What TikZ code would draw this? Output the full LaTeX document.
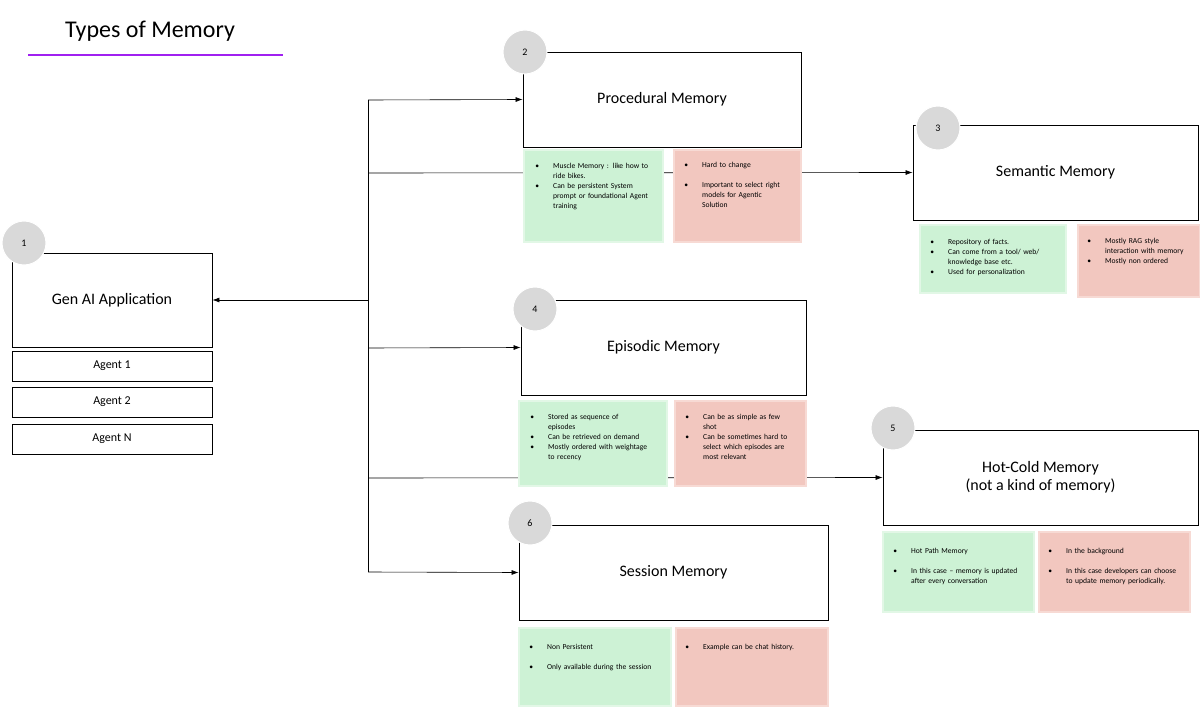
\documentclass[tikz,border=0pt]{standalone}
\usepackage{fontspec}
\setmainfont{Carlito}
\usepackage{enumitem}
\setlist[itemize]{nosep,leftmargin=22pt,labelsep=14pt,label=\textbullet}
\usetikzlibrary{arrows.meta}
\definecolor{gfill}{HTML}{CDF2D5}
\definecolor{gdraw}{HTML}{E2F7E6}
\definecolor{rfill}{HTML}{F2C7BF}
\definecolor{rdraw}{HTML}{F7DAD4}
\definecolor{circ}{HTML}{D9D9D9}
\definecolor{purp}{HTML}{A020F0}
\begin{document}
\begin{tikzpicture}[x=1pt,y=-1pt,
 box/.style={draw=black,line width=0.9pt,fill=white,font=\fontsize{16}{18}\selectfont,align=center},
 agent/.style={draw=black,line width=0.8pt,fill=white,font=\fontsize{12}{14}\selectfont},
 note/.style={font=\fontsize{7.6}{10}\selectfont,anchor=north west,inner sep=0pt},
 num/.style={circle,fill=circ,draw=white,line width=1pt,minimum size=44pt,inner sep=0pt,font=\fontsize{10}{12}\selectfont},
 conn/.style={line width=0.6pt},
 arr/.style={conn,-{Latex[length=7pt,width=5pt]}}]
\useasboundingbox (0,0) rectangle (1200,709);
\fill[white] (0,0) rectangle (1200,709);
% title
\node[font=\fontsize{24}{28}\selectfont] (title) at (150,31) {Types of Memory};
\draw[purp,line width=2.5pt] (28,55) -- (283,55);
% connectors (drawn first, behind)
\coordinate (t1) at (368,100); \coordinate (t2) at (368,173); \coordinate (t3) at (368,300);
\coordinate (t4) at (368,348); \coordinate (t5) at (368,478); \coordinate (t6) at (368,572);
% boxes
\node[box,minimum width=278pt,minimum height=95pt] (proc) at (662,99.5) {Procedural Memory};
\node[box,minimum width=285pt,minimum height=95pt] (sem) at (1055.5,172.5) {Semantic Memory};
\node[box,minimum width=200pt,minimum height=94pt] (gen) at (112,300) {Gen AI Application};
\node[box,minimum width=285pt,minimum height=95pt] (epi) at (663.5,347.5) {Episodic Memory};
\node[box,minimum width=315pt,minimum height=95pt] (hot) at (1040.5,477.5) {Hot-Cold Memory\\(not a kind of memory)};
\node[box,minimum width=309pt,minimum height=95pt] (ses) at (673.5,572.5) {Session Memory};
\draw[conn] (t1) -- (t6);
\draw[arr] (t1) -- (proc.west);
\draw[arr] (t2) -- (sem.west);
\draw[arr] (t3) -- (gen.east);
\draw[arr] (t4) -- (epi.west);
\draw[arr] (t5) -- (hot.west);
\draw[arr] (t6) -- (ses.west);
% agents
\node[agent,minimum width=200pt,minimum height=30pt] (a1) at (112,366) {Agent 1};
\node[agent,minimum width=200pt,minimum height=30pt] (a2) at (112,402) {Agent 2};
\node[agent,minimum width=200pt,minimum height=30pt] (a3) at (112,439) {Agent N};
% notes
\newcommand\gbox[5]{\filldraw[fill=gfill,draw=gdraw,line width=1.5pt] (#1,#2) rectangle (#3,#4);}
\newcommand\rbox[5]{\filldraw[fill=rfill,draw=rdraw,line width=1.5pt] (#1,#2) rectangle (#3,#4);}
\gbox{524}{150}{663}{242}{}
\rbox{674}{150}{801}{242}{}
\node[note,text width=125pt] (n1) at (531,158) {\begin{itemize}\item Muscle Memory : like how to ride bikes.\item Can be persistent System prompt or foundational Agent training\end{itemize}};
\node[note,text width=108pt] (n2) at (680,157) {\begin{itemize}\item Hard to change\item[]\item Important to select right models for Agentic Solution\end{itemize}};
\gbox{920}{225}{1066}{293}{}
\rbox{1078}{225}{1200}{297}{}
\node[note,text width=135pt] (n3) at (926,234) {\begin{itemize}\item Repository of facts.\item Can come from a tool/ web/ knowledge base etc.\item Used for personalization\end{itemize}};
\node[note,text width=110pt] (n4) at (1083,233) {\begin{itemize}\item Mostly RAG style interaction with memory\item Mostly non ordered\end{itemize}};
\gbox{519}{401}{667}{486}{}
\rbox{675}{401}{806}{486}{}
\node[note,text width=122pt] (n5) at (526,409) {\begin{itemize}\item Stored as sequence of episodes\item Can be retrieved on demand\item Mostly ordered with weightage to recency\end{itemize}};
\node[note,text width=115pt] (n6) at (681,409) {\begin{itemize}\item Can be as simple as few shot\item Can be sometimes hard to select which episodes are most relevant\end{itemize}};
\gbox{883}{532}{1034}{612}{}
\rbox{1039}{532}{1190}{612}{}
\node[note,text width=130pt] (n7) at (889,543) {\begin{itemize}\item Hot Path Memory\item[]\item In this case -- memory is updated after every conversation\end{itemize}};
\node[note,text width=140pt] (n8) at (1044,543) {\begin{itemize}\item In the background\item[]\item In this case developers can choose to update memory periodically.\end{itemize}};
\gbox{519}{628}{671}{706}{}
\rbox{676}{628}{828}{706}{}
\node[note,text width=135pt] (n9) at (525,639) {\begin{itemize}\item Non Persistent\item[]\item Only available during the session\end{itemize}};
\node[note,text width=140pt] (n10) at (681,639) {\begin{itemize}\item Example can be chat history.\end{itemize}};
% number circles
\node[num] (c2) at (525,52) {2};
\node[num] (c3) at (938,128) {3};
\node[num] (c1) at (24,243) {1};
\node[num] (c4) at (535,309) {4};
\node[num] (c5) at (893,428) {5};
\node[num] (c6) at (530,523) {6};
\end{tikzpicture}
\end{document}
